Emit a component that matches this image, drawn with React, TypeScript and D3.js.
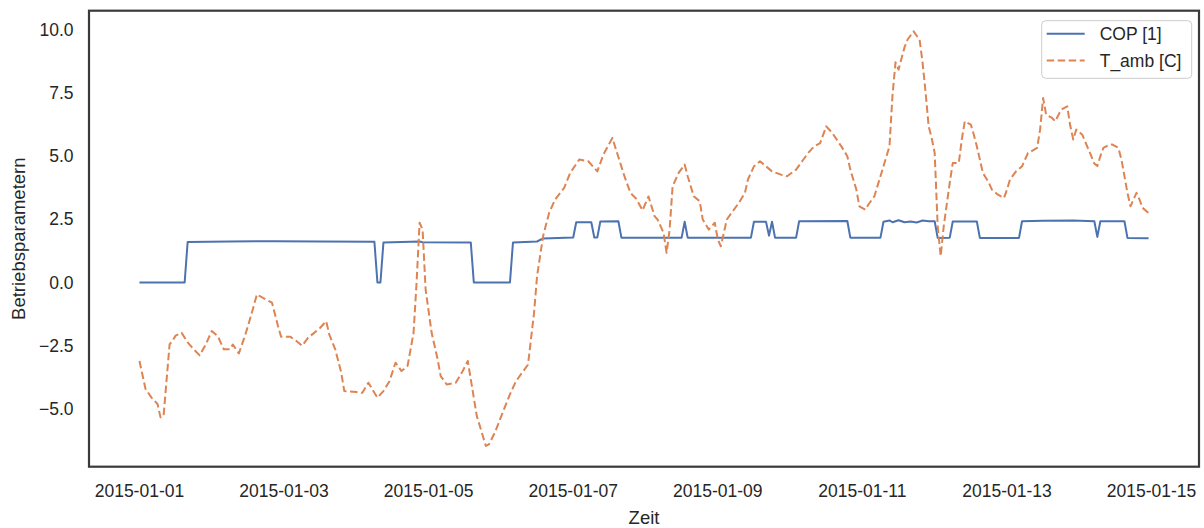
import React from 'react';
import * as d3 from 'd3';

// hours since 2015-01-01 00:00 and the values
const copHours: number[] = [
    0, 15, 16, 30, 45, 60, 78, 79, 80, 81,
    93, 94, 110, 111, 123, 124, 132, 134, 144, 145,
    150, 151, 152, 153, 159, 160, 180, 181, 182, 203,
    204, 208, 209, 210, 211, 218, 219, 235, 236, 246,
    247, 249, 250, 252, 254, 256, 258, 260, 262, 264,
    265, 269, 270, 278, 279, 292, 293, 300, 310, 317,
    318, 319, 327, 328, 335,
];
const copValues: number[] = [
    0, 0, 1.6, 1.62, 1.63, 1.62, 1.61, 0, 0, 1.58,
    1.62, 1.59, 1.58, 0, 0, 1.58, 1.62, 1.74, 1.78, 2.38,
    2.38, 1.78, 1.78, 2.41, 2.42, 1.77, 1.77, 2.4, 1.77, 1.77,
    2.4, 2.4, 1.85, 2.4, 1.77, 1.77, 2.42, 2.43, 1.77, 1.77,
    2.4, 2.45, 2.38, 2.46, 2.38, 2.41, 2.37, 2.45, 2.42, 2.42,
    1.76, 1.77, 2.41, 2.41, 1.76, 1.76, 2.42, 2.44, 2.45, 2.42,
    1.8, 2.42, 2.42, 1.76, 1.75,
];

const tambHours: number[] = [
    0, 2, 4, 6, 7, 8, 10, 11, 12, 14,
    16, 18, 20, 22, 24, 26, 28, 30, 31, 33,
    35, 37, 39, 41, 44, 46, 47, 50, 52, 54,
    56, 58, 60, 62, 63, 65, 67, 68, 72, 74,
    76, 78, 79, 81, 83, 85, 87, 89, 91, 92,
    93, 94, 95, 97, 99, 100, 102, 105, 107, 109,
    110, 112, 115, 116, 118, 121, 123, 125, 127, 129,
    131, 132, 134, 136, 138, 141, 143, 146, 149, 152,
    154, 157, 161, 163, 165, 167, 169, 171, 172, 174,
    175, 176, 177, 179, 181, 182, 184, 186, 187, 189,
    191, 192, 193, 195, 197, 199, 201, 202, 204, 206,
    208, 210, 213, 215, 218, 220, 222, 224, 226, 228,
    230, 233, 235, 236, 238, 239, 241, 242, 244, 246,
    247, 249, 250, 251, 252, 254, 255, 257, 259, 260,
    261, 262, 263, 264, 265, 266, 267, 269, 270, 272,
    273, 274, 276, 277, 278, 280, 282, 283, 285, 287,
    288, 289, 291, 293, 294, 295, 296, 298, 299, 300,
    301, 303, 304, 306, 308, 309, 310, 311, 313, 316,
    317, 318, 319, 320, 322, 323, 325, 326, 327, 328,
    329, 331, 332, 333, 335,
];
const tambValues: number[] = [
    -3.1, -4.2, -4.55, -4.8, -5.33, -5.28, -2.45, -2.3, -2.1, -1.99,
    -2.37, -2.64, -2.88, -2.45, -1.92, -2.12, -2.64, -2.64, -2.45, -2.8,
    -2.12, -1.33, -0.47, -0.61, -0.8, -1.72, -2.14, -2.14, -2.3, -2.5,
    -2.18, -1.99, -1.79, -1.53, -2.05, -2.64, -3.57, -4.29, -4.33, -4.36,
    -3.96, -4.36, -4.55, -4.29, -3.9, -3.17, -3.5, -3.3, -1.99, 0.0,
    2.36, 2.09, -0.28, -1.99, -3.04, -3.7, -4.03, -3.96, -3.57, -3.1,
    -3.83, -5.28, -6.46, -6.4, -5.93, -5.01, -4.42, -3.9, -3.57, -3.24,
    -1.2, 0.25, 1.83, 2.75, 3.28, 3.74, 4.33, 4.86, 4.79, 4.39,
    5.05, 5.71, 4.2, 3.54, 3.3, 2.85, 3.4, 2.62, 2.49, 1.96,
    1.17, 2.09, 3.8, 4.33, 4.66, 4.2, 3.41, 3.21, 2.49, 2.09,
    2.36, 1.7, 1.43, 2.49, 2.82, 3.15, 3.54, 4.07, 4.59, 4.79,
    4.59, 4.39, 4.26, 4.2, 4.46, 4.79, 5.12, 5.38, 5.51, 6.17,
    5.91, 5.38, 4.99, 4.46, 3.67, 3.01, 2.88, 3.08, 3.41, 4.2,
    4.59, 5.38, 7.4, 8.7, 8.41, 9.3, 9.6, 9.92, 9.59, 8.67,
    7.49, 6.17, 5.71, 5.12, 2.22, 1.04, 2.22, 3.94, 4.72, 4.72,
    5.65, 6.37, 6.24, 5.84, 5.38, 4.33, 3.94, 3.67, 3.47, 3.34,
    3.67, 4.07, 4.39, 4.59, 4.86, 5.12, 5.18, 5.32, 6.04, 7.29,
    6.63, 6.5, 6.37, 6.83, 6.96, 6.2, 5.65, 6.04, 5.84, 4.99,
    4.7, 4.6, 4.99, 5.32, 5.45, 5.45, 5.32, 4.86, 4.2, 3.54,
    3.01, 3.54, 3.28, 2.95, 2.75,
];

const seriesNames: string[] = ['COP [1]', 'T_amb [C]'];
const xTickLabels: string[] = [
    '2015-01-01', '2015-01-03', '2015-01-05', '2015-01-07',
    '2015-01-09', '2015-01-11', '2015-01-13', '2015-01-15',
];
const yTicks: number[] = [-5, -2.5, 0, 2.5, 5, 7.5, 10];

const width = 1204;
const height = 528;
const margin = { top: 10.7, right: 5, bottom: 61.3, left: 89 };
const font = '"Liberation Sans", Arial, sans-serif';
const textColor = '#262626';
const colors = ['#4c72b0', '#dd8452'];

const parseDay = d3.timeParse('%Y-%m-%d');
const start = parseDay('2015-01-01') as Date;
const toDate = (h: number) => d3.timeHour.offset(start, h);

type Pt = { t: Date; v: number };
const copData: Pt[] = copHours.map((h, i) => ({ t: toDate(h), v: copValues[i] }));
const tambData: Pt[] = tambHours.map((h, i) => ({ t: toDate(h), v: tambValues[i] }));

const App: React.FC = () => {
    const x0 = margin.left;
    const x1 = width - margin.right;
    const y0 = margin.top;
    const y1 = height - margin.bottom;

    // matplotlib-style 5% padding on both axes
    const tExt = d3.extent([...copData, ...tambData], (d) => d.t.getTime()) as [number, number];
    const tPad = (tExt[1] - tExt[0]) * 0.05;
    const x = d3
        .scaleTime()
        .domain([new Date(tExt[0] - tPad), new Date(tExt[1] + tPad)])
        .range([x0, x1]);

    const vExt = d3.extent([...copValues, ...tambValues]) as [number, number];
    const vPad = (vExt[1] - vExt[0]) * 0.05;
    const y = d3
        .scaleLinear()
        .domain([vExt[0] - vPad, vExt[1] + vPad])
        .range([y1, y0]);

    const line = d3
        .line<Pt>()
        .x((d) => x(d.t))
        .y((d) => y(d.v));

    const lx = 1041.7;
    const ly = 20.7;

    return (
        <svg
            width={width}
            height={height}
            style={{ position: 'absolute', left: 0, top: 0, background: '#fff' }}
            fontFamily={font}
        >
            <rect x={0} y={0} width={width} height={height} fill="#fff" />

            <defs>
                <clipPath id="plot">
                    <rect x={x0} y={y0} width={x1 - x0} height={y1 - y0} />
                </clipPath>
            </defs>

            <g clipPath="url(#plot)">
                <path
                    d={line(copData) ?? ''}
                    fill="none"
                    stroke={colors[0]}
                    strokeWidth={2}
                    strokeLinejoin="round"
                />
                <path
                    d={line(tambData) ?? ''}
                    fill="none"
                    stroke={colors[1]}
                    strokeWidth={2}
                    strokeDasharray="7.5,3.5"
                    strokeLinejoin="round"
                />
            </g>

            <rect
                x={x0}
                y={y0}
                width={x1 - x0}
                height={y1 - y0}
                fill="none"
                stroke="#3a3a3a"
                strokeWidth={2.2}
            />

            {/* y tick labels */}
            {yTicks.map((t) => (
                <text
                    key={t}
                    x={x0 - 15.5}
                    y={y(t)}
                    dy="0.35em"
                    textAnchor="end"
                    fontSize={17.5}
                    fill={textColor}
                >
                    {t.toFixed(1).replace('-', '\u2212')}
                </text>
            ))}

            {/* x tick labels */}
            {xTickLabels.map((s) => (
                <text
                    key={s}
                    x={x(parseDay(s) as Date)}
                    y={y1 + 30}
                    textAnchor="middle"
                    fontSize={17.5}
                    fill={textColor}
                >
                    {s}
                </text>
            ))}

            <text
                x={(x0 + x1) / 2}
                y={height - 4}
                textAnchor="middle"
                fontSize={18.5}
                fill={textColor}
            >
                Zeit
            </text>
            <text
                transform={`translate(25, ${(y0 + y1) / 2}) rotate(-90)`}
                textAnchor="middle"
                fontSize={18.5}
                fill={textColor}
            >
                Betriebsparametern
            </text>

            {/* legend */}
            <rect
                x={lx}
                y={ly}
                width={150}
                height={57.6}
                rx={4}
                fill="#fff"
                fillOpacity={0.8}
                stroke="#cccccc"
                strokeWidth={1}
            />
            {seriesNames.map((name, i) => (
                <g key={name} transform={`translate(${lx}, ${ly + 13 + i * 26.7})`}>
                    <line
                        x1={5}
                        x2={43}
                        y1={0}
                        y2={0}
                        stroke={colors[i]}
                        strokeWidth={2}
                        strokeDasharray={i === 1 ? '7.5,3.5' : undefined}
                    />
                    <text x={58} y={0} dy="0.36em" fontSize={17.5} fill={textColor}>
                        {name}
                    </text>
                </g>
            ))}
        </svg>
    );
};

export default App;
